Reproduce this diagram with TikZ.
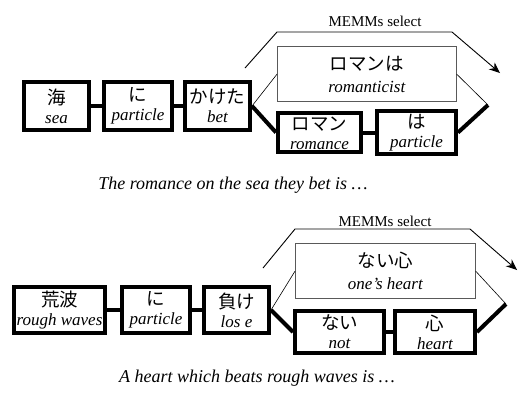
\documentclass[tikz,border=0pt]{standalone}
\usepackage{fontspec}
\setmainfont{Liberation Serif}
\newfontfamily\jp{Noto Sans CJK JP}
\newfontfamily\glossfont{Liberation Serif}
\usetikzlibrary{positioning,arrows.meta}
\newcommand{\wrd}[2]{{\fontsize{18.5}{20}\jp\rule{0pt}{14.5pt}#1}\\{\glossfont\itshape #2}}

\begin{document}
\begin{tikzpicture}[x=1pt, y=-1pt]
    \tikzset{
        wordbox/.style = {rectangle, draw=black, line width=4pt, align=center, inner xsep=0pt, inner ysep=2.5pt,
                          fill=white, font=\fontsize{17}{19}\selectfont},
        candbox/.style = {rectangle, draw=black!65, line width=0.7pt, align=center, inner sep=0pt, minimum height=55pt,
                          font=\fontsize{17}{22}\selectfont},
        linkline/.style = {line width=4pt},
        altline/.style = {line width=0.6pt},
        selarrow/.style = {line width=0.9pt, -{Stealth[length=11pt,width=9pt]}},
        selnote/.style = {font=\fontsize{15}{16}\selectfont},
        gloss/.style = {font=\fontsize{18}{20}\selectfont\itshape}
    }
    \useasboundingbox (0,0) rectangle (518,392);

    % upper sentence
    \node (umi) [wordbox, minimum width=65pt, minimum height=48pt] at (56.5,106) {\wrd{海}{sea}};
    \node (ni1) [wordbox, minimum width=68pt, minimum height=48pt, right=11pt of umi] {\wrd{に}{particle}};
    \node (kaketa) [wordbox, minimum width=65pt, minimum height=48pt, right=9pt of ni1] {\wrd{かけた}{bet}};
    \node (roman) [wordbox, minimum width=83pt, minimum height=39pt, right=24pt of kaketa, yshift=-26.5pt] {\wrd{ロマン}{romance}};
    \node (ha) [wordbox, minimum width=79pt, minimum height=39pt, right=12pt of roman] {\wrd{は}{particle}};
    \node (romanha) [candbox, minimum width=179pt, above right=9pt and 1pt of roman.north west] {\wrd{ロマンは}{romanticist}};
    \coordinate (join1) at (488,105);

    \draw [linkline] (umi) -- (ni1);
    \draw [linkline] (ni1) -- (kaketa);
    \draw [linkline] (kaketa.east) -- (roman.west);
    \draw [linkline] (roman) -- (ha);
    \draw [linkline] (ha.east) -- (join1);
    \draw [altline] (kaketa.east) -- (romanha.west);
    \draw [altline] (romanha.east) -- (join1);

    \coordinate (s1) at (245,68);
    \coordinate (s2) at (277,32);
    \coordinate (s3) at (452,32);
    \coordinate (s4) at (500,73);
    \draw [selarrow] (s1) -- (s2) -- (s3) -- (s4);
    \node (sel1) [selnote] at (375,21) {MEMMs select};
    \node (cap1) [gloss] at (233,185) {The romance on the sea they bet is …};

    % lower sentence
    \node (arauni) [wordbox, minimum width=91pt, minimum height=46pt] at (59.5,310) {\wrd{荒波}{rough waves}};
    \node (ni2) [wordbox, minimum width=68pt, minimum height=46pt, right=13pt of arauni] {\wrd{に}{particle}};
    \node (make) [wordbox, minimum width=65pt, minimum height=46pt, right=10pt of ni2] {\wrd{負け}{los e}};
    \node (nai) [wordbox, minimum width=89pt, minimum height=42pt, right=22pt of make, yshift=-22pt] {\wrd{ない}{not}};
    \node (kokoro) [wordbox, minimum width=80pt, minimum height=42pt, right=7pt of nai] {\wrd{心}{heart}};
    \node (naikokoro) [candbox, minimum width=180pt, above right=10pt and 2pt of nai.north west] {\wrd{ない心}{one’s heart}};
    \coordinate (join2) at (506,304);

    \draw [linkline] (arauni) -- (ni2);
    \draw [linkline] (ni2) -- (make);
    \draw [linkline] (make.east) -- (nai.west);
    \draw [linkline] (nai) -- (kokoro);
    \draw [linkline] (kokoro.east) -- (join2);
    \draw [altline] (make.east) -- (naikokoro.west);
    \draw [altline] (naikokoro.east) -- (join2);

    \coordinate (t1) at (263,268);
    \coordinate (t2) at (295,229);
    \coordinate (t3) at (470,229);
    \coordinate (t4) at (517,270);
    \draw [selarrow] (t1) -- (t2) -- (t3) -- (t4);
    \node (sel2) [selnote] at (385,221) {MEMMs select};
    \node (cap2) [gloss] at (257,378) {A heart which beats rough waves is …};
\end{tikzpicture}
\end{document}
